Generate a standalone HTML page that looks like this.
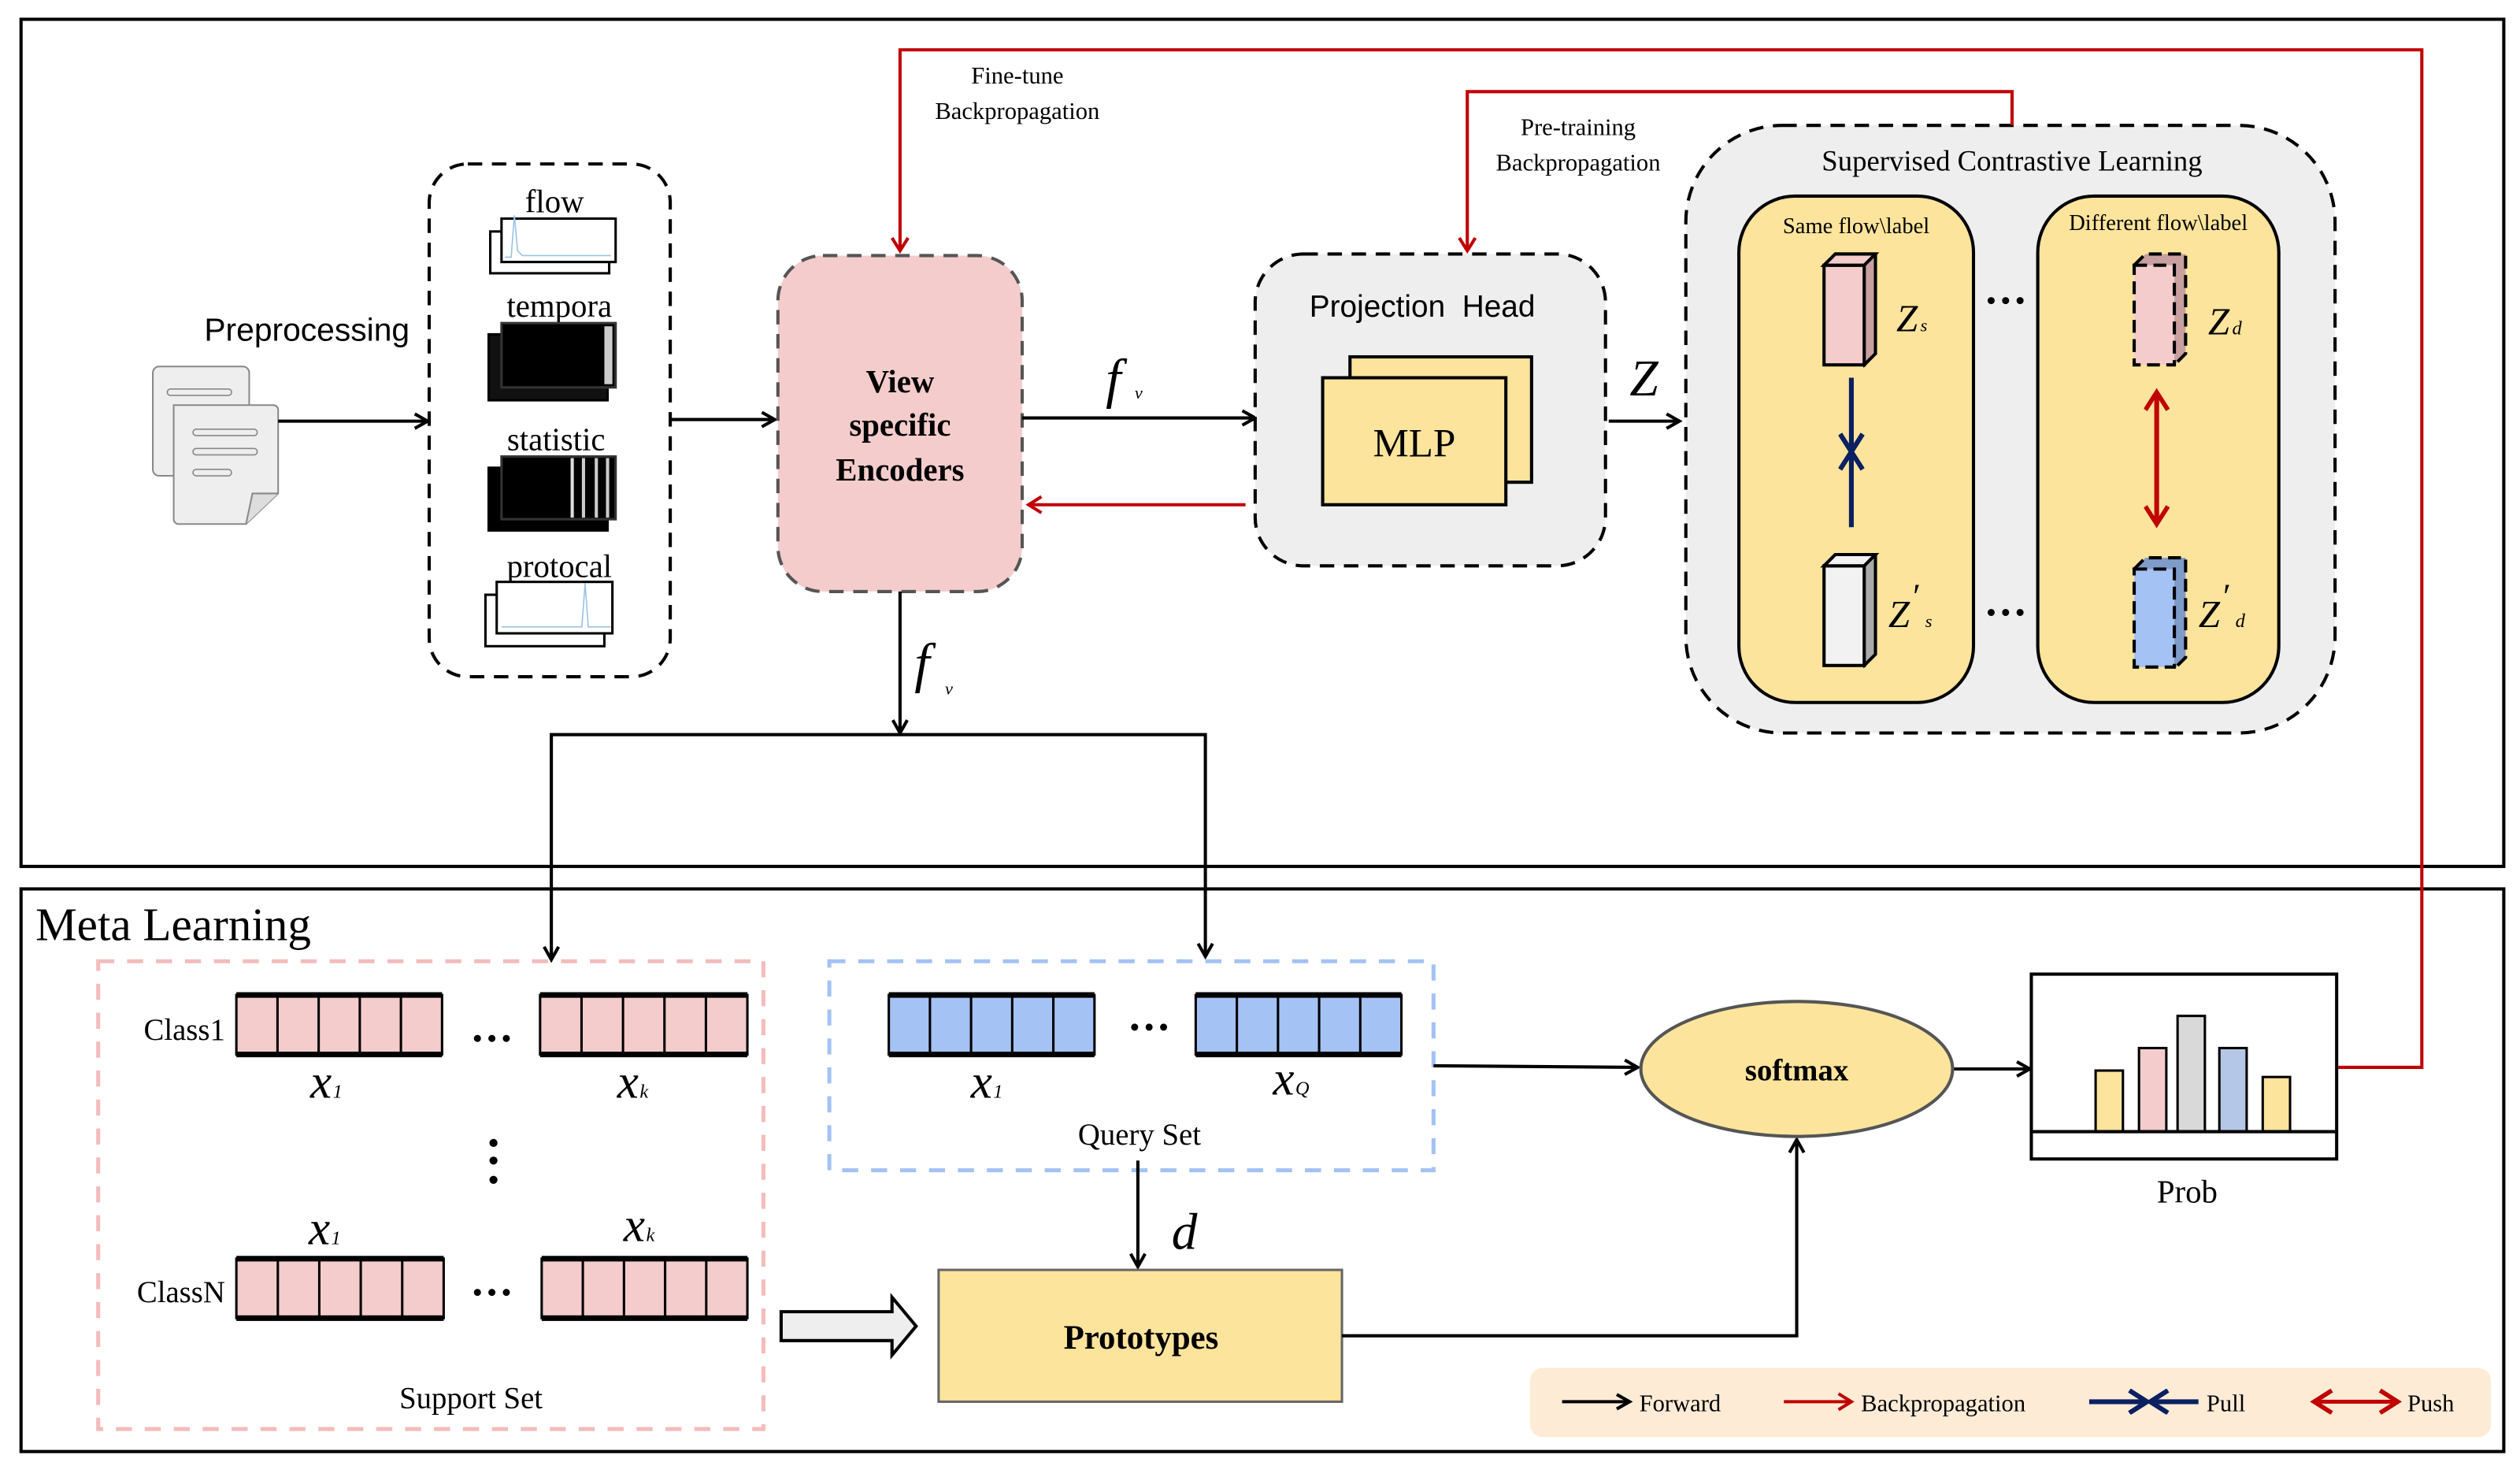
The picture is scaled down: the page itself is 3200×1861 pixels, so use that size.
<!DOCTYPE html>
<html><head><meta charset="utf-8"><style>
html,body{margin:0;padding:0;background:#fff}
svg{display:block}
text{font-family:"Liberation Serif",serif;fill:#000}
.sans{font-family:"Liberation Sans",sans-serif}
</style></head><body>
<svg width="3200" height="1861" viewBox="0 0 1568 912" xmlns="http://www.w3.org/2000/svg">
<defs>
<marker id="ab" markerWidth="11" markerHeight="11" refX="9" refY="5.5" orient="auto" markerUnits="userSpaceOnUse"><path d="M1,1 L9,5.5 L1,10" fill="none" stroke="#000" stroke-width="2"/></marker>
<marker id="ar" markerWidth="12" markerHeight="12" refX="9" refY="6" orient="auto" markerUnits="userSpaceOnUse"><path d="M1,1 L9,6 L1,11" fill="none" stroke="#c00000" stroke-width="2"/></marker>
<marker id="an" markerWidth="16" markerHeight="16" refX="12" refY="8" orient="auto" markerUnits="userSpaceOnUse"><path d="M1,1 L12,8 L1,15" fill="none" stroke="#0a2060" stroke-width="3"/></marker>
<marker id="ar2" markerWidth="16" markerHeight="16" refX="12" refY="8" orient="auto-start-reverse" markerUnits="userSpaceOnUse"><path d="M1,1 L12,8 L1,15" fill="none" stroke="#c00000" stroke-width="2.8"/></marker>
</defs>

<rect x="13" y="12" width="1545" height="527" fill="none" stroke="#000" stroke-width="2"/>
<rect x="13" y="553" width="1545" height="350" fill="none" stroke="#000" stroke-width="2"/>

<rect x="95" y="228" width="60" height="68" rx="4" fill="#eee" stroke="#888" stroke-width="1"/>
<rect x="104" y="242" width="40" height="4" rx="2" fill="none" stroke="#888" stroke-width="0.8"/>
<path d="M108,252 h62 a3,3 0 0 1 3,3 v52 l-20,19 h-42 a3,3 0 0 1 -3,-3 z" fill="#eee" stroke="#888" stroke-width="1"/>
<path d="M153,326 l4,-19 h16" fill="#ddd" stroke="#888" stroke-width="1"/>
<rect x="120" y="267" width="40" height="4" rx="2" fill="none" stroke="#888" stroke-width="0.8"/>
<rect x="120" y="279" width="40" height="4" rx="2" fill="none" stroke="#888" stroke-width="0.8"/>
<rect x="120" y="292" width="24" height="4" rx="2" fill="none" stroke="#888" stroke-width="0.8"/>
<text x="127" y="212" class="sans" font-size="20">Preprocessing</text>
<line x1="173" y1="262" x2="266" y2="262" stroke="#000" stroke-width="2" marker-end="url(#ab)"/>

<rect x="267" y="102" width="150" height="319" rx="24" fill="none" stroke="#000" stroke-width="2" stroke-dasharray="9,6"/>
<text x="345" y="132" font-size="20" text-anchor="middle">flow</text>
<rect x="305" y="144" width="74" height="26" fill="#fff" stroke="#000" stroke-width="1.5"/>
<rect x="312" y="136" width="71" height="27" fill="#fff" stroke="#000" stroke-width="1.5"/>
<path d="M314,160 h4 l2,-26 l2,22 l3,3 h55" fill="none" stroke="#9cc3e6" stroke-width="0.8"/>
<text x="348" y="197" font-size="20" text-anchor="middle">tempora</text>
<rect x="304" y="208" width="74" height="41" fill="#111" stroke="#000" stroke-width="1.5"/>
<rect x="312" y="201" width="71" height="40" fill="#000" stroke="#333" stroke-width="1.5"/>
<rect x="376" y="203" width="5" height="36" fill="#ccc"/>
<text x="346" y="280" font-size="20" text-anchor="middle">statistic</text>
<rect x="304" y="291" width="74" height="39" fill="#000" stroke="#000" stroke-width="1.5"/>
<rect x="312" y="284" width="71" height="39" fill="#000" stroke="#333" stroke-width="1.5"/>
<rect x="355" y="285" width="2" height="37" fill="#ddd"/><rect x="362" y="285" width="2" height="37" fill="#ccc"/><rect x="370" y="285" width="2" height="37" fill="#ccc"/><rect x="377" y="285" width="2" height="37" fill="#ccc"/>
<text x="348" y="359" font-size="20" text-anchor="middle">protocal</text>
<rect x="302" y="370" width="74" height="32" fill="#fff" stroke="#000" stroke-width="1.5"/>
<rect x="309" y="362" width="72" height="32" fill="#fff" stroke="#000" stroke-width="1.5"/>
<path d="M312,390 h50 l2,-27 l2,27 h14" fill="none" stroke="#9cc3e6" stroke-width="0.8"/>
<line x1="417" y1="261" x2="482" y2="261" stroke="#000" stroke-width="2" marker-end="url(#ab)"/>

<rect x="484" y="159" width="152" height="209" rx="28" fill="#f4cccc" stroke="#555" stroke-width="2" stroke-dasharray="9,6"/>
<text x="560" y="244" font-size="20" font-weight="bold" text-anchor="middle">View</text>
<text x="560" y="271" font-size="20" font-weight="bold" text-anchor="middle">specific</text>
<text x="560" y="299" font-size="20" font-weight="bold" text-anchor="middle">Encoders</text>

<line x1="636" y1="260" x2="781" y2="260" stroke="#000" stroke-width="2" marker-end="url(#ab)"/>
<text x="688" y="247" font-size="34" font-style="italic">f</text><text x="706" y="248" font-size="11" font-style="italic">v</text>
<line x1="775" y1="314" x2="640" y2="314" stroke="#c00000" stroke-width="2" marker-end="url(#ar)"/>

<rect x="781" y="158" width="218" height="194" rx="30" fill="#eee" stroke="#000" stroke-width="2" stroke-dasharray="9,6"/>
<text x="885" y="197" class="sans" font-size="19" text-anchor="middle" xml:space="preserve">Projection  Head</text>
<rect x="840" y="222" width="113" height="78" fill="#fde49c" stroke="#000" stroke-width="2"/>
<rect x="823" y="235" width="114" height="79" fill="#fde49c" stroke="#000" stroke-width="2"/>
<text x="880" y="284" font-size="25" text-anchor="middle">MLP</text>
<text x="1014" y="246" font-size="32" font-style="italic">Z</text>
<line x1="1001" y1="262" x2="1045" y2="262" stroke="#000" stroke-width="2" marker-end="url(#ab)"/>

<rect x="1049" y="78" width="404" height="378" rx="60" fill="#eee" stroke="#000" stroke-width="2" stroke-dasharray="9,6"/>
<text x="1252" y="106" font-size="18" text-anchor="middle">Supervised Contrastive Learning</text>
<rect x="1082" y="122" width="146" height="315" rx="35" fill="#fde49c" stroke="#000" stroke-width="2"/>
<rect x="1268" y="122" width="150" height="315" rx="35" fill="#fde49c" stroke="#000" stroke-width="2"/>
<text x="1155" y="145" font-size="14" text-anchor="middle">Same flow\label</text>
<text x="1343" y="143" font-size="14" text-anchor="middle">Different flow\label</text>
<g stroke="#000" stroke-width="2">
<path d="M1135,165 l7,-7 h25 v62 l-7,7 z" fill="#c9a0a0"/><rect x="1135" y="165" width="25" height="62" fill="#f4cccc"/><path d="M1135,165 l7,-7 h25 l-7,7 z" fill="#f4cccc"/>
<path d="M1135,352 l7,-7 h25 v62 l-7,7 z" fill="#aaa"/><rect x="1135" y="352" width="25" height="62" fill="#f2f2f2"/><path d="M1135,352 l7,-7 h25 l-7,7 z" fill="#f2f2f2"/>
</g>
<g stroke="#000" stroke-width="2" stroke-dasharray="8,4">
<path d="M1328,165 l7,-7 h25 v62 l-7,7 z" fill="#c9a0a0"/><rect x="1328" y="165" width="25" height="62" fill="#f4cccc"/>
<path d="M1328,354 l7,-7 h25 v62 l-7,7 z" fill="#7f9bc8"/><rect x="1328" y="354" width="25" height="61" fill="#a4c2f4"/>
</g>
<text x="1180" y="206" font-size="24" font-style="italic">Z</text><text x="1195" y="206" font-size="11" font-style="italic">s</text>
<text x="1374" y="208" font-size="24" font-style="italic">Z</text><text x="1389" y="208" font-size="12" font-style="italic">d</text>
<text x="1175" y="390" font-size="24" font-style="italic">Z</text><text x="1189" y="378" font-size="22" font-style="italic">′</text><text x="1198" y="390" font-size="11" font-style="italic">s</text>
<text x="1368" y="390" font-size="24" font-style="italic">Z</text><text x="1382" y="378" font-size="22" font-style="italic">′</text><text x="1391" y="390" font-size="12" font-style="italic">d</text>
<g fill="#000">
<circle cx="1239" cy="187" r="2.2"/><circle cx="1248" cy="187" r="2.2"/><circle cx="1257" cy="187" r="2.2"/>
<circle cx="1239" cy="381" r="2.2"/><circle cx="1248" cy="381" r="2.2"/><circle cx="1257" cy="381" r="2.2"/>
</g>
<line x1="1152" y1="235" x2="1152" y2="281" stroke="#0a2060" stroke-width="3" marker-end="url(#an)"/>
<line x1="1152" y1="328" x2="1152" y2="281" stroke="#0a2060" stroke-width="3" marker-end="url(#an)"/>
<line x1="1342" y1="244" x2="1342" y2="326" stroke="#c00000" stroke-width="3" marker-start="url(#ar2)" marker-end="url(#ar2)"/>

<polyline points="1455,664 1507,664 1507,31 560,31 560,156" fill="none" stroke="#c00000" stroke-width="2" marker-end="url(#ar)"/>
<polyline points="1252,78 1252,57 913,57 913,156" fill="none" stroke="#c00000" stroke-width="2" marker-end="url(#ar)"/>
<text x="633" y="52" font-size="15" text-anchor="middle">Fine-tune</text>
<text x="633" y="74" font-size="15" text-anchor="middle">Backpropagation</text>
<text x="982" y="84" font-size="15" text-anchor="middle">Pre-training</text>
<text x="982" y="106" font-size="15" text-anchor="middle">Backpropagation</text>

<line x1="560" y1="368" x2="560" y2="456" stroke="#000" stroke-width="2" marker-end="url(#ab)"/>
<text x="569" y="424" font-size="34" font-style="italic">f</text><text x="588" y="432" font-size="11" font-style="italic">v</text>
<polyline points="343,597 343,457 750,457 750,595" fill="none" stroke="#000" stroke-width="2" marker-end="url(#ab)"/>
<line x1="343" y1="590" x2="343" y2="597" stroke="#000" stroke-width="2" marker-end="url(#ab)"/>

<text x="22" y="585" font-size="29">Meta Learning</text>
<rect x="61" y="598" width="414" height="291" fill="none" stroke="#f4bcbc" stroke-width="2.5" stroke-dasharray="10,8"/>
<rect x="516" y="598" width="376" height="130" fill="none" stroke="#a4c2f4" stroke-width="2.5" stroke-dasharray="10,8"/>

<g stroke="#000" stroke-width="1.5">
<g fill="#f4cccc">
<rect x="147" y="619" width="128" height="37"/><rect x="336" y="619" width="129" height="37"/>
<rect x="147" y="783" width="129" height="37"/><rect x="337" y="783" width="128" height="37"/>
</g>
<g fill="#a4c2f4">
<rect x="553" y="619" width="128" height="37"/><rect x="744" y="619" width="128" height="37"/>
</g>
<path d="M172.6,619v37M198.2,619v37M223.8,619v37M249.4,619v37 M361.8,619v37M387.6,619v37M413.4,619v37M439.2,619v37 M172.8,783v37M198.6,783v37M224.4,783v37M250.2,783v37 M362.6,783v37M388.2,783v37M413.8,783v37M439.4,783v37 M578.6,619v37M604.2,619v37M629.8,619v37M655.4,619v37 M769.6,619v37M795.2,619v37M820.8,619v37M846.4,619v37"/>
</g>
<g stroke="#000" stroke-width="3.5">
<path d="M147,619h128M147,656h128M336,619h129M336,656h129M147,783h129M147,820h129M337,783h128M337,820h128M553,619h128M553,656h128M744,619h128M744,656h128"/>
</g>
<text x="140" y="647" font-size="19" text-anchor="end">Class1</text>
<text x="140" y="810" font-size="19" text-anchor="end">ClassN</text>
<g fill="#000">
<circle cx="297" cy="646" r="2.2"/><circle cx="306" cy="646" r="2.2"/><circle cx="315" cy="646" r="2.2"/>
<circle cx="297" cy="804" r="2.2"/><circle cx="306" cy="804" r="2.2"/><circle cx="315" cy="804" r="2.2"/>
<circle cx="706" cy="639" r="2.2"/><circle cx="715" cy="639" r="2.2"/><circle cx="724" cy="639" r="2.2"/>
<circle cx="307" cy="711" r="2.5"/><circle cx="307" cy="722" r="2.5"/><circle cx="307" cy="734" r="2.5"/>
</g>
<g font-style="italic">
<text x="193" y="683" font-size="30">x</text><text x="207" y="683" font-size="12">1</text>
<text x="384" y="683" font-size="30">x</text><text x="398" y="683" font-size="12">k</text>
<text x="192" y="774" font-size="30">x</text><text x="206" y="774" font-size="12">1</text>
<text x="388" y="772" font-size="30">x</text><text x="402" y="772" font-size="12">k</text>
<text x="604" y="683" font-size="30">x</text><text x="618" y="683" font-size="12">1</text>
<text x="792" y="681" font-size="30">x</text><text x="806" y="681" font-size="12">Q</text>
<text x="729" y="777" font-size="32">d</text>
</g>
<text x="293" y="876" font-size="19" text-anchor="middle">Support Set</text>
<text x="709" y="712" font-size="19" text-anchor="middle">Query Set</text>

<line x1="708" y1="722" x2="708" y2="788" stroke="#000" stroke-width="2" marker-end="url(#ab)"/>
<rect x="584" y="790" width="251" height="82" fill="#fde49c" stroke="#666" stroke-width="1.5"/>
<text x="710" y="839" font-size="21" font-weight="bold" text-anchor="middle">Prototypes</text>
<path d="M486,816 h69 v-9 l15,18 l-15,18 v-9 h-69 z" fill="#eee" stroke="#000" stroke-width="2"/>
<polyline points="835,831 1118,831 1118,709" fill="none" stroke="#000" stroke-width="2" marker-end="url(#ab)"/>

<line x1="892" y1="663" x2="1019" y2="664" stroke="#000" stroke-width="2" marker-end="url(#ab)"/>
<ellipse cx="1118" cy="665" rx="97" ry="42" fill="#fde49c" stroke="#555" stroke-width="2"/>
<text x="1118" y="672" font-size="19" font-weight="bold" text-anchor="middle">softmax</text>
<line x1="1216" y1="665" x2="1263" y2="665" stroke="#000" stroke-width="2" marker-end="url(#ab)"/>

<rect x="1264" y="606" width="190" height="115" fill="#fff" stroke="#000" stroke-width="2"/>
<g stroke="#000" stroke-width="1.5">
<rect x="1304" y="666" width="17" height="38" fill="#fde49c"/>
<rect x="1331" y="652" width="17" height="52" fill="#f4cccc"/>
<rect x="1355" y="632" width="17" height="72" fill="#d9d9d9"/>
<rect x="1381" y="652" width="17" height="52" fill="#b4c7e7"/>
<rect x="1408" y="670" width="17" height="34" fill="#fde49c"/>
</g>
<line x1="1264" y1="704" x2="1454" y2="704" stroke="#000" stroke-width="2"/>
<text x="1361" y="748" font-size="20" text-anchor="middle">Prob</text>

<rect x="952" y="851" width="598" height="43" rx="8" fill="#fdebd6"/>
<line x1="972" y1="872" x2="1014" y2="872" stroke="#000" stroke-width="2" marker-end="url(#ab)"/>
<text x="1020" y="878" font-size="15">Forward</text>
<line x1="1110" y1="872" x2="1152" y2="872" stroke="#c00000" stroke-width="2" marker-end="url(#ar)"/>
<text x="1158" y="878" font-size="15">Backpropagation</text>
<line x1="1300" y1="872" x2="1336" y2="872" stroke="#0a2060" stroke-width="3" marker-end="url(#an)"/>
<line x1="1368" y1="872" x2="1338" y2="872" stroke="#0a2060" stroke-width="3" marker-end="url(#an)"/>
<text x="1373" y="878" font-size="15">Pull</text>
<line x1="1440" y1="872" x2="1492" y2="872" stroke="#c00000" stroke-width="2.5" marker-start="url(#ar2)" marker-end="url(#ar2)"/>
<text x="1498" y="878" font-size="15">Push</text>
</svg>
</body></html>
